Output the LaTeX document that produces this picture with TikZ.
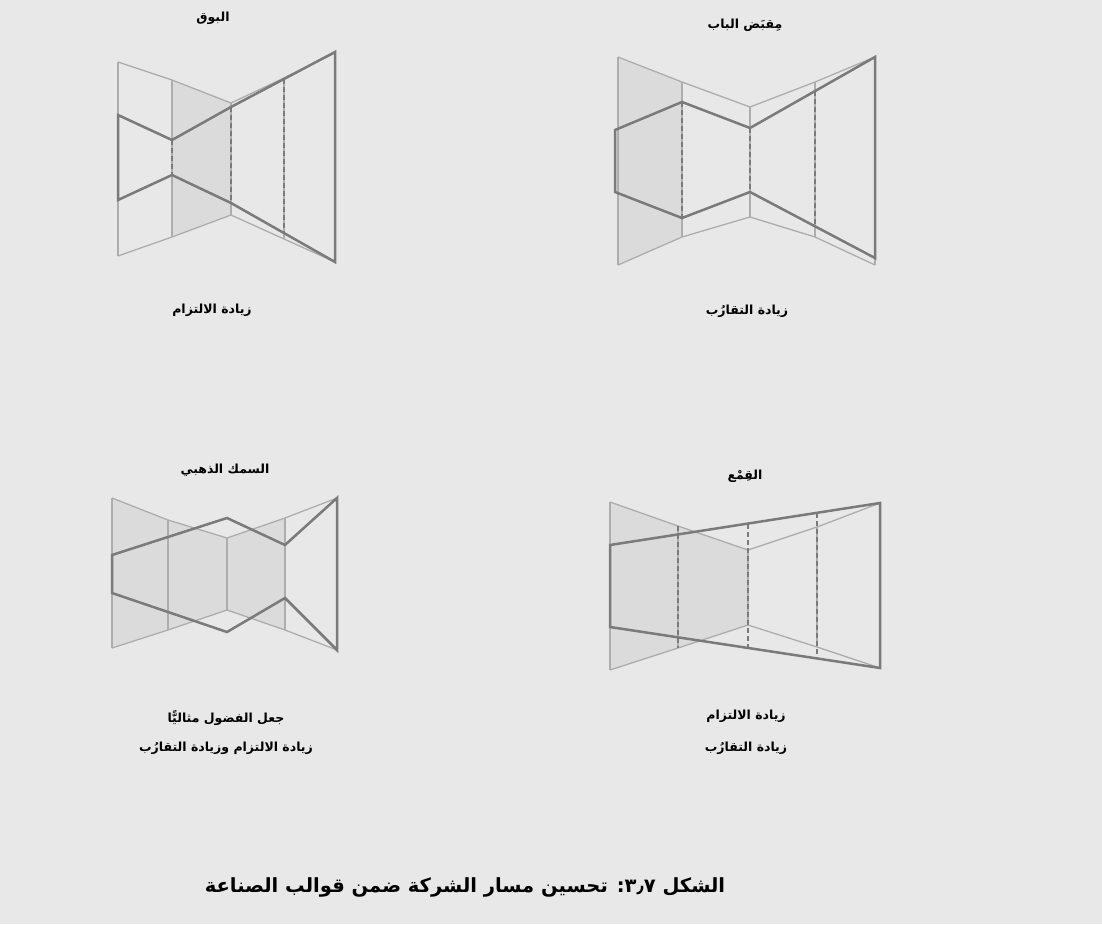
\documentclass[tikz,border=0pt]{standalone}
\usepackage{fontspec}
\newfontfamily\arabicfont[Script=Arabic]{DejaVu Sans}
\TeXXeTstate=1
\definecolor{bggray}{HTML}{E8E8E8}
\definecolor{shadegray}{HTML}{DBDBDB}
\definecolor{tmplgray}{HTML}{ADADAD}
\definecolor{pathgray}{HTML}{7A7A7A}

\begin{document}
\begin{tikzpicture}[
    x=1pt, y=-1pt,
    tmpl/.style={draw=tmplgray, line width=1.3pt, line join=miter},
    shade/.style={fill=shadegray},
    course/.style={draw=pathgray, line width=2.5pt, line join=miter},
    cut/.style={draw=pathgray, line width=2.2pt, dash pattern=on 5pt off 3pt},
    lbl/.style={font=\arabicfont\bfseries\fontsize{12.5}{15}\selectfont, inner sep=1pt},
    capt/.style={font=\arabicfont\bfseries\fontsize{19.5}{22}\selectfont, inner sep=1pt}
]
\fill[bggray] (0,0) rectangle (1102,924);
\useasboundingbox (0,0) rectangle (1102,924);

% horn
\fill[shade] (172,80) -- (231,103) -- (231,215) -- (172,237) -- cycle;
\draw[tmpl] (118,62) -- (172,80) -- (231,103) -- (284,78) -- (335,53);
\draw[tmpl] (118,256) -- (172,237) -- (231,215) -- (284,239) -- (335,262);
\foreach \x/\t/\b in {118/62/256, 172/80/237, 231/103/215, 284/78/239, 335/53/262}
    \draw[tmpl] (\x,\t) -- (\x,\b);
\draw[course] (118,115) -- (172,140) -- (231,107) -- (335,52) -- (335,262) -- (231,203) -- (172,175) -- (118,200) -- cycle;
\draw[cut] (172,140) -- (172,175);
\draw[cut] (231,107) -- (231,203);
\draw[cut] (284,79) -- (284,233);
\node[lbl] (horn) at (213,18) {\beginR البوق\endR};
\node[lbl] (hornnote) at (212,310) {\beginR زيادة الالتزام\endR};

% door handle
\fill[shade] (618,57) -- (682,82) -- (682,237) -- (618,265) -- cycle;
\draw[tmpl] (618,57) -- (682,82) -- (750,107) -- (815,82) -- (875,57);
\draw[tmpl] (618,265) -- (682,237) -- (750,217) -- (815,237) -- (875,265);
\foreach \x/\t/\b in {618/57/265, 682/82/237, 750/107/217, 815/82/237, 875/57/265}
    \draw[tmpl] (\x,\t) -- (\x,\b);
\draw[course] (615,130) -- (682,102) -- (750,128) -- (875,57) -- (875,258) -- (750,192) -- (682,218) -- (615,192) -- cycle;
\draw[cut] (682,102) -- (682,218);
\draw[cut] (750,128) -- (750,192);
\draw[cut] (815,91) -- (815,226);
\node[lbl] (handle) at (745,25) {\beginR مِقبَض الباب\endR};
\node[lbl] (handlenote) at (747,311) {\beginR زيادة التقارُب\endR};

% goldfish
\fill[shade] (112,498) -- (168,520) -- (227,538) -- (285,518) -- (285,630) -- (227,610) -- (168,630) -- (112,648) -- cycle;
\draw[tmpl] (112,498) -- (168,520) -- (227,538) -- (285,518) -- (337,498);
\draw[tmpl] (112,648) -- (168,630) -- (227,610) -- (285,630) -- (337,650);
\foreach \x/\t/\b in {112/498/648, 168/520/630, 227/538/610, 285/518/630, 337/498/650}
    \draw[tmpl] (\x,\t) -- (\x,\b);
\draw[course] (112,555) -- (227,518) -- (285,545) -- (337,498) -- (337,650) -- (285,598) -- (227,632) -- (112,593) -- cycle;
\node[lbl] (fish) at (225,470) {\beginR السمك الذهبي\endR};
\node[lbl] (fishnote) at (226,718) {\beginR جعل الفضول مثاليًّا\endR};
\node[lbl] (fishnotetwo) at (226,748) {\beginR زيادة الالتزام وزيادة التقارُب\endR};

% funnel
\fill[shade] (610,502) -- (678,526) -- (748,550) -- (748,625) -- (678,648) -- (610,670) -- cycle;
\draw[tmpl] (610,502) -- (678,526) -- (748,550) -- (817,527) -- (880,503);
\draw[tmpl] (610,670) -- (678,648) -- (748,625) -- (817,647) -- (880,668);
\foreach \x/\t/\b in {610/502/670, 678/526/648, 748/550/625, 817/527/647, 880/503/668}
    \draw[tmpl] (\x,\t) -- (\x,\b);
\draw[course] (610,545) -- (880,503) -- (880,668) -- (610,627) -- cycle;
\draw[cut] (678,526) -- (678,648);
\draw[cut] (748,524) -- (748,648);
\draw[cut] (817,513) -- (817,658);
\node[lbl] (funnel) at (745,476) {\beginR القِمْع\endR};
\node[lbl] (funnelnote) at (746,716) {\beginR زيادة الالتزام\endR};
\node[lbl] (funnelnotetwo) at (746,748) {\beginR زيادة التقارُب\endR};

% caption
\node[capt] (caption) at (465,887) {\beginR الشكل \beginL٣٫٧\endL: تحسين مسار الشركة ضمن قوالب الصناعة\endR};
\end{tikzpicture}
\end{document}
